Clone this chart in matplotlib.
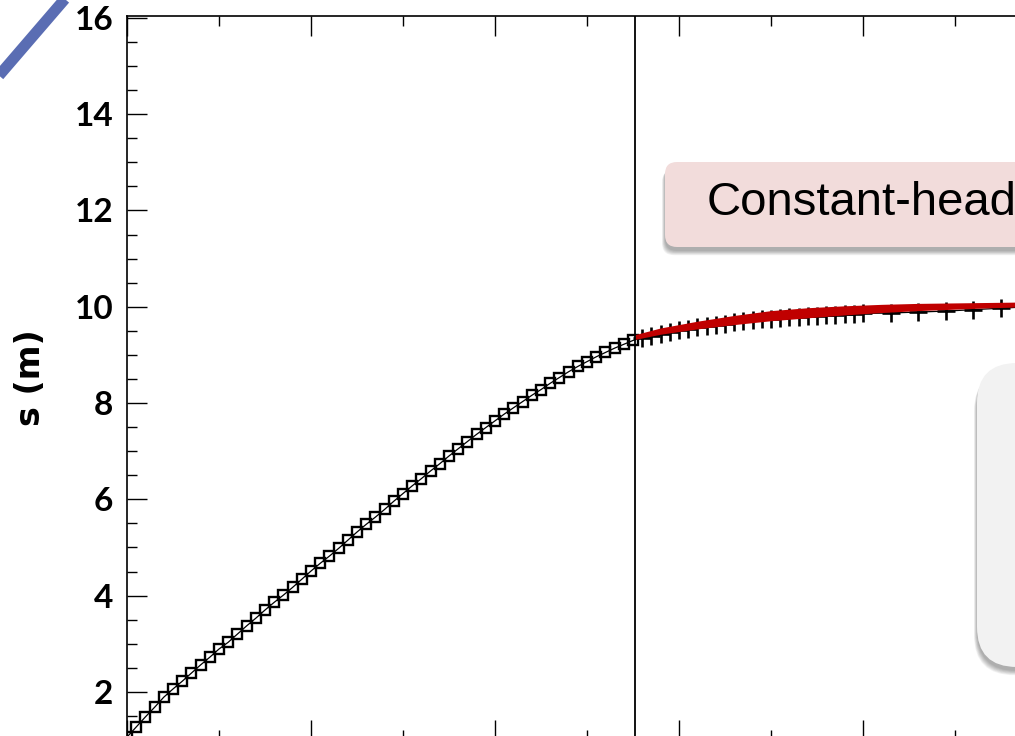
import numpy as np
import matplotlib.pyplot as plt
from matplotlib.patches import FancyBboxPatch
from matplotlib.lines import Line2D
from matplotlib.ticker import MultipleLocator
from matplotlib.transforms import IdentityTransform

W, H = 1015, 736

# drawdown record, pumping phase (sampled every 0.5 time units)
t_pump = np.arange(0, 28, 0.5)
s_pump = [1.06, 1.27, 1.48, 1.68, 1.89, 2.06, 2.22, 2.39, 2.56, 2.72,
          2.89, 3.03, 3.20, 3.37, 3.53, 3.70, 3.86, 4.01, 4.17, 4.34,
          4.51, 4.67, 4.82, 4.98, 5.15, 5.32, 5.48, 5.63, 5.79, 5.96,
          6.12, 6.28, 6.43, 6.59, 6.74, 6.90, 7.05, 7.20, 7.35, 7.49,
          7.63, 7.77, 7.90, 8.03, 8.16, 8.28, 8.41, 8.53, 8.65, 8.76,
          8.86, 8.96, 9.05, 9.14, 9.22, 9.30]

# drawdown record after the boundary is felt
t_bnd = [28, 28.5, 29, 29.5, 30, 30.5, 31, 31.5, 32, 32.5,
         33, 33.5, 34, 34.5, 35, 35.5, 36, 36.5, 37, 37.5,
         38, 38.5, 39, 39.5, 40, 41.5, 43, 44.5, 46, 47.5, 49]
s_bnd = [9.36, 9.40, 9.43, 9.47, 9.51, 9.54, 9.57, 9.60, 9.63, 9.65,
         9.68, 9.70, 9.72, 9.74, 9.75, 9.77, 9.78, 9.79, 9.80, 9.81,
         9.82, 9.83, 9.84, 9.85, 9.86, 9.87, 9.89, 9.91, 9.94, 9.97, 10.00]

# constant-head model envelope
t_env = [27.6, 29, 31, 33, 35, 37, 39, 41, 43, 45, 47, 49, 51, 53, 55]
s_env_hi = [9.42, 9.56, 9.70, 9.82, 9.92, 9.98, 10.02, 10.05, 10.07, 10.08,
            10.09, 10.10, 10.10, 10.11, 10.11]
s_env_lo = [9.32, 9.43, 9.54, 9.63, 9.71, 9.77, 9.83, 9.88, 9.92, 9.95,
            9.98, 10.00, 10.02, 10.03, 10.04]

t_switch = 27.6
box_label = "Constant-head"

fig = plt.figure(figsize=(W / 100, H / 100), dpi=100)
fig.patch.set_facecolor("white")


def px_box(x0, top, x1, bottom, radius, color, shadow=True):
    # rounded slide box given in pixel coords (origin top-left)
    y0 = H - bottom
    w, h = x1 - x0, bottom - top
    if shadow:
        for k in range(7):
            sh = FancyBboxPatch((x0 - k * 0.5, y0 - 4 - k * 0.7), w + k, h,
                                boxstyle=f"round,pad=0,rounding_size={radius}",
                                transform=IdentityTransform(), facecolor="black",
                                edgecolor="none", alpha=0.05, zorder=1)
            fig.add_artist(sh)
    p = FancyBboxPatch((x0, y0), w, h,
                       boxstyle=f"round,pad=0,rounding_size={radius}",
                       transform=IdentityTransform(), facecolor=color,
                       edgecolor="none", zorder=2)
    fig.add_artist(p)


ax = fig.add_axes([127 / W, (H - 740) / H, 1012 / W, 724 / H])
ax.set_xlim(0, 55)
ax.set_ylim(1, 16.04)

ax.plot(np.concatenate([t_pump, t_bnd]), np.concatenate([s_pump, s_bnd]),
        color="black", lw=0.9, zorder=3)
ax.plot(t_pump, s_pump, ls="none", marker="s", ms=7, mfc="none",
        mec="black", mew=1.7, zorder=4)
ax.plot(t_bnd, s_bnd, ls="none", marker="+", ms=13, mec="black",
        mew=1.9, zorder=4)
ax.fill_between(t_env, s_env_lo, s_env_hi, color="#c00000", lw=0, zorder=5)
ax.axvline(t_switch, color="black", lw=1.3, zorder=6)

ax.xaxis.set_major_locator(MultipleLocator(10))
ax.xaxis.set_minor_locator(MultipleLocator(5))
ax.yaxis.set_major_locator(MultipleLocator(2))
ax.yaxis.set_minor_locator(MultipleLocator(0.5))
ax.tick_params(which="both", direction="in", top=True, right=True,
               width=1.0, color="black", labelbottom=False)
ax.tick_params(which="major", length=14.4, pad=10)
ax.tick_params(which="minor", length=7.2)
for sp in ax.spines.values():
    sp.set_linewidth(1.2)
for lab in ax.get_yticklabels():
    lab.set_fontfamily("Lato")
    lab.set_fontweight("bold")
    lab.set_fontsize(24)

fig.text(31 / W, 1 - 378 / H, "s (m)", rotation=90, ha="center", va="center",
         fontsize=24, fontweight="bold", family="DejaVu Sans")

# callout boxes running off the right edge
px_box(665, 162, 1120, 247, 12, "#f2dcdb")
px_box(977, 363, 1120, 667, 40, "#f2f2f2")
fig.text(707 / W, 1 - 215 / H, box_label, fontsize=34,
         family="Liberation Sans", ha="left", va="baseline", zorder=3)

# slide accent stroke in the corner
fig.add_artist(Line2D([-10 / W, 72 / W], [1 - 86 / H, 1 + 9.3 / H],
                      transform=fig.transFigure, color="#5a6db3", lw=8,
                      solid_capstyle="butt"))

fig.savefig("out.png", dpi=100)
